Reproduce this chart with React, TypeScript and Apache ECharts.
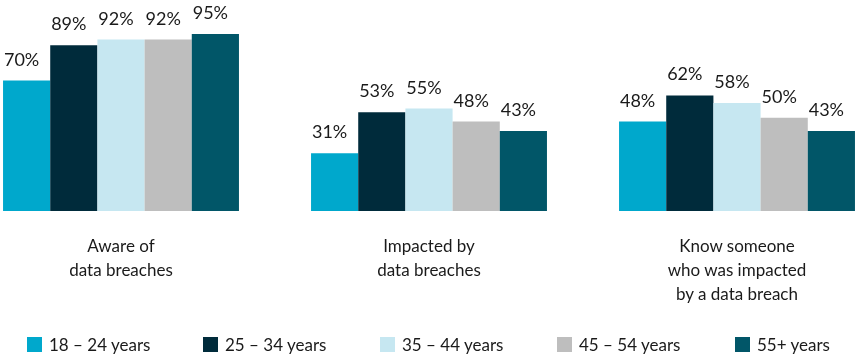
import React, { useEffect, useRef } from "react";
import * as echarts from "echarts";

const categories = ["Aware of\ndata breaches", "Impacted by\ndata breaches", "Know someone\nwho was impacted\nby a data breach"];
const seriesNames = ["18 – 24 years", "25 – 34 years", "35 – 44 years", "45 – 54 years", "55+ years"];
const values18_24 = [70, 31, 48];
const values25_34 = [89, 53, 62];
const values35_44 = [92, 55, 58];
const values45_54 = [92, 48, 50];
const values55plus = [95, 43, 43];
const colors = ["#00A8CC", "#002B3B", "#C6E7F1", "#BEBEBE", "#015668"];
const legendLefts = [27, 203, 380, 557, 735];

const FONT = "Lato";
const SHIFT = 33;

export default function App() {
  const ref = useRef<HTMLDivElement>(null);
  useEffect(() => {
    if (!ref.current) return;
    const chart = echarts.init(ref.current, undefined, { renderer: "svg" });
    const all = [values18_24, values25_34, values35_44, values45_54, values55plus];
    chart.setOption({
      animation: false,
      textStyle: { fontFamily: FONT },
      grid: { left: 0, right: 0, top: 24.7, bottom: 153, containLabel: false },
      legend: seriesNames.map((n, i) => ({
        left: legendLefts[i] + SHIFT,
        top: 336,
        padding: 0,
        itemWidth: 15,
        itemHeight: 15,
        icon: "rect",
        textStyle: { fontFamily: FONT, fontSize: 17, color: "#1a1a1a", padding: [0, 0, 0, 2] },
        data: [n],
      })),
      xAxis: {
        type: "category",
        data: categories,
        axisLine: { show: false },
        axisTick: { show: false },
        axisLabel: { fontFamily: FONT, fontSize: 17, color: "#1a1a1a", lineHeight: 24, margin: 22, interval: 0 },
      },
      yAxis: { type: "value", min: 0, max: 100, show: false, splitLine: { show: false } },
      series: all.map((vals, i) => ({
        name: seriesNames[i],
        type: "bar",
        data: vals,
        barGap: "0%",
        barCategoryGap: "23.4%",
        itemStyle: { color: colors[i] },
        label: {
          show: true,
          position: "top",
          distance: 13,
          offset: [-5, 0],
          formatter: "{c}%",
          fontFamily: FONT,
          fontSize: 18,
          color: "#1a1a1a",
        },
      })),
    });
    return () => chart.dispose();
  }, []);
  return <div ref={ref} style={{ position: "fixed", left: -SHIFT, top: 0, width: 857 + 2 * SHIFT + 1, height: 364 }} />;
}
